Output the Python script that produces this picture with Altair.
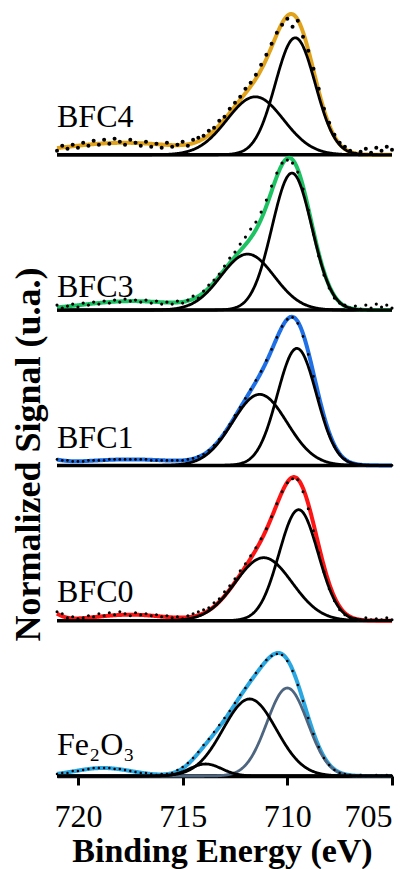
import altair as alt
import numpy as np
import pandas as pd

# Fe 2p3/2 XPS spectra after background subtraction, sampled every 0.25 eV
# from 721 eV down to 705 eV (first value = 721 eV, then 4 values per eV).
energy_hi, energy_lo, n_points = 721.0, 705.0, 65

bfc4_counts = [4,
               9, 6, 10, 7,
               12, 9, 14, 10,
               15, 11, 16, 13,
               10, 15, 12, 9,
               13, 8, 11, 7,
               12, 8, 10, 13,
               9, 15, 17, 19,
               24, 27, 34, 38,
               46, 52, 58, 66,
               72, 80, 90, 100,
               111, 122, 130, 136,
               128, 134, 118, 104,
               86, 66, 46, 32,
               20, 12, 8, 4,
               1, 3, 6, 2,
               7, 4, 8, 5]

bfc3_counts = [5,
               2, 4, 6, 3,
               7, 5, 8, 6,
               9, 7, 10, 8,
               11, 9, 10, 8,
               10, 7, 9, 6,
               8, 6, 9, 7,
               10, 14, 12, 19,
               25, 30, 36, 44,
               52, 58, 66, 73,
               81, 88, 98, 110,
               124, 137, 147, 150,
               147, 138, 121, 100,
               76, 54, 35, 22,
               12, 7, 5, 2,
               4, 1, 5, 2,
               6, 3, 5, 2]

bfc1_counts = [6,
               5, 5, 4, 4,
               4, 5, 5, 5,
               5, 6, 6, 6,
               6, 6, 6, 6,
               6, 5, 5, 5,
               5, 5, 5, 5,
               6, 7, 9, 11,
               15, 20, 26, 33,
               41, 50, 58, 67,
               76, 85, 94, 105,
               116, 128, 139, 146,
               148, 142, 129, 111,
               89, 67, 47, 31,
               19, 11, 6, 3,
               1, 1, 0, 0,
               0, 0, 0, 0]

bfc0_counts = [9,
               7, 3, 4, 2,
               3, 5, 4, 7,
               5, 8, 6, 9,
               7, 5, 8, 6,
               7, 5, 6, 4,
               5, 3, 4, 2,
               5, 7, 9, 11,
               13, 18, 22, 29,
               35, 42, 50, 57,
               65, 73, 82, 92,
               104, 117, 129, 138,
               142, 141, 129, 112,
               90, 68, 49, 32,
               20, 11, 6, 3,
               2, 1, 3, 1,
               2, 1, 3, 1]

fe2o3_counts = [2,
                3, 3, 5, 5,
                6, 7, 8, 8,
                8, 8, 7, 7,
                6, 5, 4, 3,
                3, 2, 1, 2,
                2, 3, 6, 9,
                13, 18, 24, 31,
                37, 44, 51, 58,
                65, 73, 81, 88,
                96, 103, 110, 116,
                120, 122, 121, 115,
                105, 91, 75, 58,
                42, 29, 18, 11,
                6, 3, 2, 1,
                0, 1, 0, 0,
                1, 0, 1, 0]

# Gaussian fit results: centre (eV), height, FWHM (eV); shown = drawn as its own curve
bfc4_center = [709.62, 711.53, 717.8]
bfc4_height = [117, 58, 12]
bfc4_fwhm = [2.25, 3.18, 7.0]
bfc4_shown = [True, True, False]

bfc3_center = [709.78, 711.90, 717.4]
bfc3_height = [137, 56, 9]
bfc3_fwhm = [2.24, 3.0, 5.5]
bfc3_shown = [True, True, False]

bfc1_center = [709.54, 711.32, 717.5, 722.0]
bfc1_height = [117, 71, 6, 7]
bfc1_fwhm = [2.2, 3.07, 6.0, 2.0]
bfc1_shown = [True, True, False, False]

bfc0_center = [709.46, 711.13, 717.5, 721.8]
bfc0_height = [111, 63, 6, 14]
bfc0_fwhm = [2.2, 3.2, 4.0, 1.5]
bfc0_shown = [True, True, False, False]

fe2o3_center = [710.0, 711.8, 713.9, 718.8]
fe2o3_height = [88, 77, 12, 8]
fe2o3_fwhm = [2.3, 3.0, 1.8, 3.2]
fe2o3_shown = [True, True, True, False]

samples = ["BFC4", "BFC3", "BFC1", "BFC0", "Fe₂O₃"]
counts = [bfc4_counts, bfc3_counts, bfc1_counts, bfc0_counts, fe2o3_counts]
centers = [bfc4_center, bfc3_center, bfc1_center, bfc0_center, fe2o3_center]
heights = [bfc4_height, bfc3_height, bfc1_height, bfc0_height, fe2o3_height]
fwhms = [bfc4_fwhm, bfc3_fwhm, bfc1_fwhm, bfc0_fwhm, fe2o3_fwhm]
shown = [bfc4_shown, bfc3_shown, bfc1_shown, bfc0_shown, fe2o3_shown]

# styling
fit_colors = ["#E1A31B", "#1DC262", "#1F6FE6", "#FF1414", "#2AA6E0"]
component_colors = {"Fe₂O₃": ["#4E6580", "black", "black"]}
dot_sizes = [16, 10, 7, 9, 6]
label_lift = [28, 13, 17, 19, 21]
STACK_STEP = 155.3
SERIF = "Liberation Serif"


def gaussian(x, c, h, w):
    return h * np.exp(-4.0 * np.log(2.0) * (x - c) ** 2 / w ** 2)


energy = np.linspace(energy_hi, energy_lo, n_points)
fine = np.linspace(energy_hi, energy_lo, 641)

pts, fits, comps, rules, labels = [], [], [], [], []
for i, s in enumerate(samples):
    off = (len(samples) - 1 - i) * STACK_STEP
    for e, v in zip(energy, counts[i]):
        pts.append({"energy": e, "signal": off + v, "sample": s, "size": dot_sizes[i]})
    total = np.zeros_like(fine)
    k = 0
    for j, (c, h, w) in enumerate(zip(centers[i], heights[i], fwhms[i])):
        g = gaussian(fine, c, h, w)
        total += g
        if shown[i][j]:
            col = component_colors.get(s, ["black"] * 4)[k]
            k += 1
            for e, v in zip(fine, g):
                comps.append({"energy": e, "signal": off + v, "comp": f"{s}-{j}", "color": col})
    for e, v in zip(fine, total):
        fits.append({"energy": e, "signal": off + v, "sample": s, "color": fit_colors[i]})
    rules.append({"energy": energy_hi, "energy_end": energy_lo, "signal": off})
    labels.append({"energy": energy_hi, "signal": off + label_lift[i], "text": s})

pts = pd.DataFrame(pts)
fits = pd.DataFrame(fits)
comps = pd.DataFrame(comps)
rules = pd.DataFrame(rules)
labels = pd.DataFrame(labels)

x_enc = alt.X(
    "energy:Q",
    scale=alt.Scale(domain=[705, 721], reverse=True, nice=False, zero=False),
    axis=alt.Axis(
        values=[720, 715, 710, 705], format="d", title="Binding Energy (eV)",
        grid=False, domainColor="black", domainWidth=3.5,
        tickColor="black", tickWidth=3, tickSize=9,
        labelFont=SERIF, labelFontSize=32, labelColor="black",
        labelBaseline="alphabetic", labelPadding=41,
        titleFont=SERIF, titleFontSize=34, titleFontWeight="bold",
        titleColor="black", titleBaseline="alphabetic", titleY=85, titleX=165,
    ),
)
y_enc = alt.Y(
    "signal:Q",
    scale=alt.Scale(domain=[0, 770], nice=False, zero=False),
    axis=alt.Axis(
        title="Normalized Signal (u.a.)", domain=False, ticks=False, labels=False,
        grid=False, titleFont=SERIF, titleFontSize=36, titleFontWeight="bold",
        titleColor="black", titleX=-29, titleY=448, titleAlign="center",
        titleBaseline="middle",
    ),
)

baselines = alt.Chart(rules).mark_rule(color="black", strokeWidth=3.5).encode(
    x=x_enc, x2="energy_end:Q", y=y_enc
)

fit_lines = alt.Chart(fits).mark_line(strokeWidth=4).encode(
    x=x_enc, y=y_enc,
    color=alt.Color("color:N", scale=None),
    detail="sample:N",
)

component_lines = alt.Chart(comps).mark_line(strokeWidth=2.8).encode(
    x=x_enc, y=y_enc,
    color=alt.Color("color:N", scale=None),
    detail="comp:N",
)

dots = alt.Chart(pts).mark_circle(color="black", opacity=1).encode(
    x=x_enc, y=y_enc,
    size=alt.Size("size:Q", scale=None),
)

sample_labels = alt.Chart(labels).mark_text(
    align="left", baseline="alphabetic", font=SERIF, fontSize=32, color="black"
).encode(x=x_enc, y=y_enc, text="text:N")

chart = (
    alt.layer(baselines, fit_lines, component_lines, dots, sample_labels)
    .properties(
        width=335, height=770,
        padding={"left": 57, "top": 6, "right": 28, "bottom": 93},
        autosize=alt.AutoSizeParams(type="none"),
        background="white",
    )
    .configure_view(stroke=None)
)

chart.save("out.html", embed_options={"renderer": "svg", "actions": False})
